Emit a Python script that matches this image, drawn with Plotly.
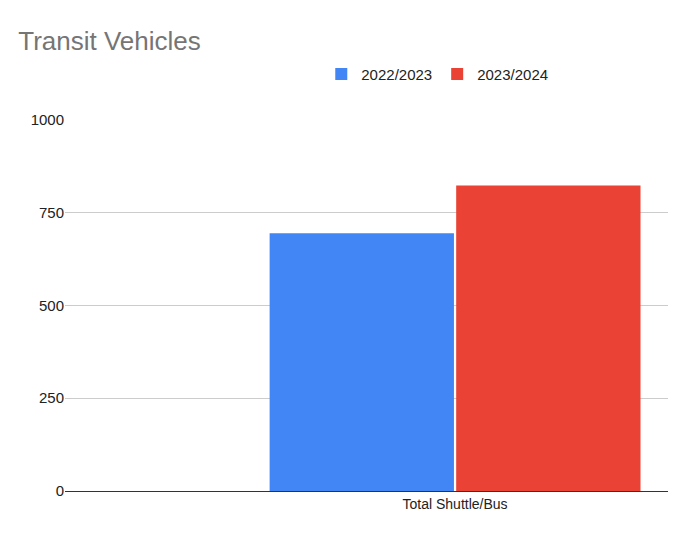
import plotly.graph_objects as go

# Chart data
categories = ["Total Shuttle/Bus"]
series_names = ["2022/2023", "2023/2024"]
values_2022 = [694]
values_2023 = [823]
colors = ["#4285F4", "#EA4335"]

fig = go.Figure()
for name, vals, col in zip(series_names, [values_2022, values_2023], colors):
    fig.add_trace(go.Bar(x=categories, y=vals, name=name, marker_color=col,
                         marker_line_width=0))

fig.update_layout(
    width=682, height=551,
    barmode="group", bargap=0.01, bargroupgap=0.012,
    paper_bgcolor="white", plot_bgcolor="white",
    font=dict(family="Arial, Liberation Sans", size=14, color="#222"),
    title=dict(text="Transit Vehicles", x=0.015, xanchor="left", y=0.94, yanchor="middle",
               font=dict(size=26, color="#757575")),
    legend=dict(orientation="h", x=0.425, xanchor="left", y=1.12, yanchor="middle",
                font=dict(size=15, color="#222")),
    margin=dict(l=57, r=22, t=111, b=68),
    xaxis=dict(range=[-1.035, 0.565], showline=True, linecolor="#333", linewidth=1,
               ticks="", tickfont=dict(size=14)),
    yaxis=dict(range=[0, 1002], tickvals=[0, 250, 500, 750, 1000],
               gridcolor="#cccccc", zeroline=False, tickfont=dict(size=15),
               ticksuffix="  "),
)

fig.write_html("out.html")
